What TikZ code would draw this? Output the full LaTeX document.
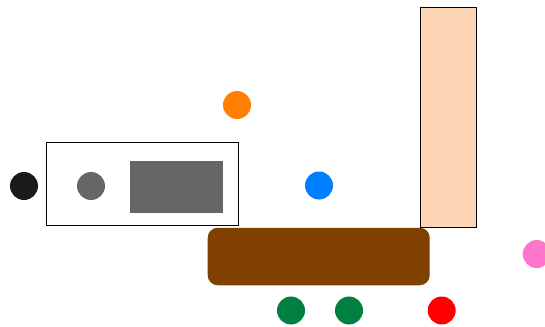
\documentclass[tikz,border=0pt]{standalone}
\definecolor{cblack}{HTML}{1A1A1A}
\definecolor{cgray}{HTML}{666666}
\definecolor{corange}{HTML}{FF8000}
\definecolor{cblue}{HTML}{0080FF}
\definecolor{cbrown}{HTML}{804000}
\definecolor{cgreen}{HTML}{008040}
\definecolor{cred}{HTML}{FF0000}
\definecolor{cpink}{HTML}{FF77CC}
\definecolor{cpeach}{HTML}{FCD5B5}
\begin{document}
\begin{tikzpicture}[x=1pt,y=-1pt,
  dot/.style={circle,inner sep=0pt,minimum size=28pt,draw=none,fill=#1},
  box/.style={rectangle,inner sep=0pt,draw=black,line width=0.9pt}]
\useasboundingbox (0,0) rectangle (545,326);
\node[box,minimum width=192pt,minimum height=83pt] (frame) at (142.8,184) {};
\node[rectangle,inner sep=0pt,fill=cgray,minimum width=92.5pt,minimum height=51.5pt] (block) at (176.3,187) {};
\node[dot=cblack] (k) at (24,186) {};
\node[dot=cgray] (g) at (91,186) {};
\node[dot=corange] (o) at (237,105) {};
\node[dot=cblue] (b) at (319,185.5) {};
\node[box,fill=cpeach,minimum width=56pt,minimum height=220pt] (peach) at (448.7,117.5) {};
\node[rectangle,rounded corners=10pt,inner sep=0pt,fill=cbrown,minimum width=222pt,minimum height=57.5pt] (brown) at (318.7,256.5) {};
\node[dot=cpink] (p) at (536.7,254) {};
\node[dot=cgreen] (g1) at (291,310.5) {};
\node[dot=cgreen] (g2) at (349,310.5) {};
\node[dot=cred] (r) at (441.7,310.5) {};
\end{tikzpicture}
\end{document}
